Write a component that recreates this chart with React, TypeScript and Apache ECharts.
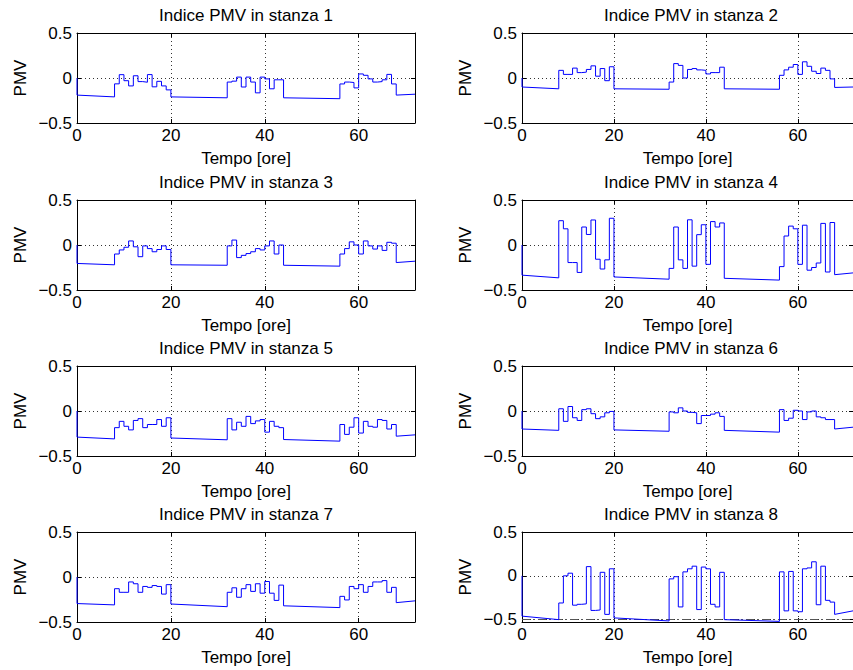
import React, { useEffect, useRef } from "react";
import * as echarts from "echarts";

// ---------- data ----------
const ROOM_TITLES = [
  "Indice PMV in stanza 1",
  "Indice PMV in stanza 2",
  "Indice PMV in stanza 3",
  "Indice PMV in stanza 4",
  "Indice PMV in stanza 5",
  "Indice PMV in stanza 6",
  "Indice PMV in stanza 7",
  "Indice PMV in stanza 8",
];
const X_LABEL = "Tempo [ore]";
const Y_LABEL = "PMV";
const X_MIN = 0;
const X_MAX = 72;
const X_STEP = 20;
const Y_TICKS = [-0.5, 0, 0.5];
const ROOM8_Y_MIN = -0.527;
const PMV_LIMIT = -0.5;

// occupied periods start (hour) and unoccupied spans [from, to]
const DAY_STARTS = [8, 32, 56];
const NIGHT_SPANS = [
  [0, 8],
  [20, 32],
  [44, 56],
  [68, 72],
];

// night values: [start, end] for each unoccupied span
// day values: hourly PMV for hours 8..19, 32..43, 56..67
const room1Nights = [[-0.19, -0.21], [-0.21, -0.22], [-0.22, -0.23], [-0.19, -0.18]];
const room1Days = [
  [-0.065, 0.037, -0.03, -0.088, 0.025, -0.04, -0.047, 0.038, -0.098, -0.037, -0.088, -0.132],
  [-0.045, -0.035, 0.01, -0.1, 0.01, -0.045, -0.165, 0.01, -0.01, -0.12, -0.02, -0.02],
  [-0.066, -0.045, -0.05, -0.11, 0.045, 0.03, -0.01, -0.045, -0.04, -0.02, 0.04, -0.066],
];

const room2Nights = [[-0.1, -0.12], [-0.12, -0.125], [-0.12, -0.125], [-0.105, -0.1]];
const room2Days = [
  [0.085, 0.04, 0.04, 0.11, 0.06, 0.065, 0.095, 0.135, 0.02, 0.105, -0.03, 0.125],
  [-0.045, 0.16, 0.14, 0.0, 0.095, 0.105, 0.09, 0.085, 0.045, 0.06, 0.06, 0.12],
  [0.03, 0.09, 0.12, 0.15, 0.04, 0.18, 0.13, 0.075, 0.05, 0.11, 0.085, -0.01],
];

const room3Nights = [[-0.205, -0.22], [-0.22, -0.225], [-0.225, -0.235], [-0.195, -0.18]];
const room3Days = [
  [-0.1, -0.055, -0.025, 0.045, -0.02, -0.13, -0.01, -0.04, -0.075, -0.05, -0.01, -0.05],
  [-0.01, 0.055, -0.14, -0.115, -0.095, -0.075, -0.04, -0.055, -0.01, 0.045, -0.1, 0.0],
  [-0.1, -0.04, 0.035, 0.0, -0.1, 0.045, -0.01, -0.045, -0.01, -0.06, 0.03, 0.02],
];

const room4Nights = [[-0.335, -0.365], [-0.355, -0.38], [-0.37, -0.39], [-0.33, -0.31]];
const room4Days = [
  [0.27, 0.18, -0.195, -0.195, -0.305, 0.2, 0.117, 0.278, -0.158, -0.267, -0.165, 0.297],
  [-0.26, 0.2, -0.165, -0.26, 0.28, -0.235, 0.115, 0.225, -0.215, 0.26, 0.2, 0.245],
  [-0.24, 0.1, 0.21, 0.18, -0.215, 0.22, -0.28, -0.25, -0.2, 0.24, -0.3, 0.25],
];

const room5Nights = [[-0.29, -0.31], [-0.3, -0.32], [-0.317, -0.335], [-0.28, -0.265]];
const room5Days = [
  [-0.185, -0.115, -0.17, -0.21, -0.105, -0.085, -0.185, -0.15, -0.15, -0.095, -0.17, -0.075],
  [-0.085, -0.21, -0.125, -0.17, -0.06, -0.14, -0.11, -0.095, -0.235, -0.115, -0.17, -0.185],
  [-0.15, -0.26, -0.18, -0.075, -0.245, -0.115, -0.17, -0.18, -0.095, -0.105, -0.2, -0.15],
];

const room6Nights = [[-0.2, -0.215], [-0.21, -0.225], [-0.215, -0.235], [-0.2, -0.18]];
const room6Days = [
  [0.025, -0.115, 0.05, -0.075, -0.105, 0.015, 0.025, -0.03, -0.085, -0.065, -0.02, -0.005],
  [-0.01, -0.02, 0.035, 0.0, -0.015, -0.02, -0.14, -0.05, -0.05, -0.035, -0.02, -0.06],
  [0.015, -0.105, -0.08, 0.008, 0.0, -0.095, -0.01, 0.0, -0.065, -0.075, -0.095, -0.095],
];

const room7Nights = [[-0.295, -0.31], [-0.3, -0.33], [-0.32, -0.34], [-0.285, -0.265]];
const room7Days = [
  [-0.13, -0.17, -0.17, -0.055, -0.075, -0.17, -0.105, -0.115, -0.095, -0.105, -0.19, -0.085],
  [-0.17, -0.12, -0.225, -0.13, -0.085, -0.16, -0.075, -0.18, -0.05, -0.18, -0.26, -0.09],
  [-0.215, -0.255, -0.105, -0.13, -0.085, -0.17, -0.105, -0.055, -0.055, -0.04, -0.17, -0.115],
];

const room8Nights = [[-0.46, -0.5], [-0.48, -0.515], [-0.5, -0.52], [-0.44, -0.4]];
const room8Days = [
  [-0.31, 0.0, 0.03, -0.335, -0.325, -0.32, 0.105, -0.395, -0.39, 0.04, -0.44, 0.08],
  [-0.035, -0.01, -0.355, 0.045, 0.08, 0.11, -0.385, 0.1, 0.08, -0.325, -0.355, 0.04],
  [0.045, -0.4, 0.05, -0.4, -0.41, 0.08, 0.09, 0.16, -0.33, 0.11, -0.28, -0.3],
];

const ROOMS = [
  { nights: room1Nights, days: room1Days },
  { nights: room2Nights, days: room2Days },
  { nights: room3Nights, days: room3Days },
  { nights: room4Nights, days: room4Days },
  { nights: room5Nights, days: room5Days },
  { nights: room6Nights, days: room6Days },
  { nights: room7Nights, days: room7Days },
  { nights: room8Nights, days: room8Days },
];

// ---------- layout / style ----------
const FONT = '"Liberation Sans", Arial, Helvetica, sans-serif';
const FS = 17;
const COL_LEFT = [77, 522];
const PLOT_W = 338;
const ROW_TOP = [33, 200, 366, 532];
const PLOT_H = 90;

function buildTrace(nights: number[][], days: number[][]) {
  const pts: number[][] = [[0, 0]];
  nights.forEach(([a, b], i) => {
    const [t0, t1] = NIGHT_SPANS[i];
    pts.push([t0, a], [t1, b]);
    if (i < days.length) {
      const s = DAY_STARTS[i];
      days[i].forEach((v, k) => {
        pts.push([s + k, v], [s + k + 1, v]);
      });
    }
  });
  return pts;
}

const yFmt = (v: number) => (v === 0 ? "0" : v < 0 ? "\u2212" + Math.abs(v) : String(v));

function buildOption() {
  const grid: any[] = [];
  const xAxis: any[] = [];
  const yAxis: any[] = [];
  const series: any[] = [];
  const title: any[] = [];
  const textBase = { fontFamily: FONT, fontSize: FS, color: "#000" };
  const lineBlack = { color: "#000", width: 1 };

  ROOMS.forEach((room, i) => {
    const col = i % 2;
    const row = Math.floor(i / 2);
    const left = COL_LEFT[col];
    const top = ROW_TOP[row];
    const isLast = i === 7;
    grid.push({ left, top, width: PLOT_W, height: PLOT_H, containLabel: false });
    title.push({
      text: ROOM_TITLES[i],
      left: left + PLOT_W / 2,
      top: top - 18,
      textAlign: "center",
      textVerticalAlign: "middle",
      padding: 0,
      textStyle: { ...textBase, fontWeight: "normal" },
    });
    const xCommon = {
      type: "value",
      gridIndex: i,
      min: X_MIN,
      max: X_MAX,
      interval: X_STEP,
      axisLine: { show: true, onZero: false, lineStyle: lineBlack },
      axisTick: { show: true, inside: true, length: 4, lineStyle: lineBlack },
    };
    xAxis.push({
      ...xCommon,
      position: "bottom",
      axisLabel: { ...textBase, margin: 4, showMaxLabel: false },
      splitLine: { show: true, lineStyle: { type: [1, 3], color: "#333", width: 1 } },
      name: X_LABEL,
      nameLocation: "middle",
      nameGap: 27,
      nameTextStyle: textBase,
    });
    xAxis.push({
      ...xCommon,
      position: "top",
      axisLabel: { show: false },
      splitLine: { show: false },
    });
    const yCommon: any = {
      type: "value",
      gridIndex: i,
      min: isLast ? ROOM8_Y_MIN : Y_TICKS[0],
      max: Y_TICKS[Y_TICKS.length - 1],
      axisLine: { show: true, onZero: false, lineStyle: lineBlack },
      axisTick: { show: true, inside: true, length: 4, lineStyle: lineBlack },
    };
    if (isLast) {
      yCommon.axisTick.customValues = Y_TICKS;
    } else {
      yCommon.interval = 0.5;
    }
    yAxis.push({
      ...yCommon,
      position: "left",
      axisLabel: {
        ...textBase,
        margin: 5,
        formatter: yFmt,
        ...(isLast ? { customValues: Y_TICKS } : {}),
      },
      splitLine: { show: true, lineStyle: { type: [1, 3], color: "#333", width: 1 } },
      name: Y_LABEL,
      nameLocation: "middle",
      nameRotate: 90,
      nameGap: 48,
      nameTextStyle: textBase,
    });
    yAxis.push({
      ...yCommon,
      position: "right",
      axisLabel: { show: false },
      splitLine: { show: false },
    });
    const s: any = {
      type: "line",
      name: ROOM_TITLES[i],
      xAxisIndex: 2 * i,
      yAxisIndex: 2 * i,
      data: buildTrace(room.nights, room.days),
      showSymbol: false,
      symbol: "none",
      lineStyle: { color: "#0000ff", width: 1 },
      clip: false,
      z: 5,
    };
    if (isLast) {
      s.markLine = {
        silent: true,
        symbol: ["none", "none"],
        label: { show: false },
        lineStyle: { color: "#555", type: [8, 3, 2, 3], width: 1 },
        data: [{ yAxis: PMV_LIMIT }],
      };
    }
    series.push(s);
  });

  return {
    animation: false,
    backgroundColor: "#fff",
    textStyle: { fontFamily: FONT },
    title,
    grid,
    xAxis,
    yAxis,
    series,
  };
}

export default function App() {
  const ref = useRef<HTMLDivElement>(null);
  useEffect(() => {
    if (!ref.current) return;
    const chart = echarts.init(ref.current, undefined, { renderer: "svg" });
    chart.setOption(buildOption() as any);
    return () => chart.dispose();
  }, []);
  return (
    <div
      ref={ref}
      style={{ position: "absolute", left: 0, top: 0, width: 853, height: 670, background: "#fff" }}
    />
  );
}
